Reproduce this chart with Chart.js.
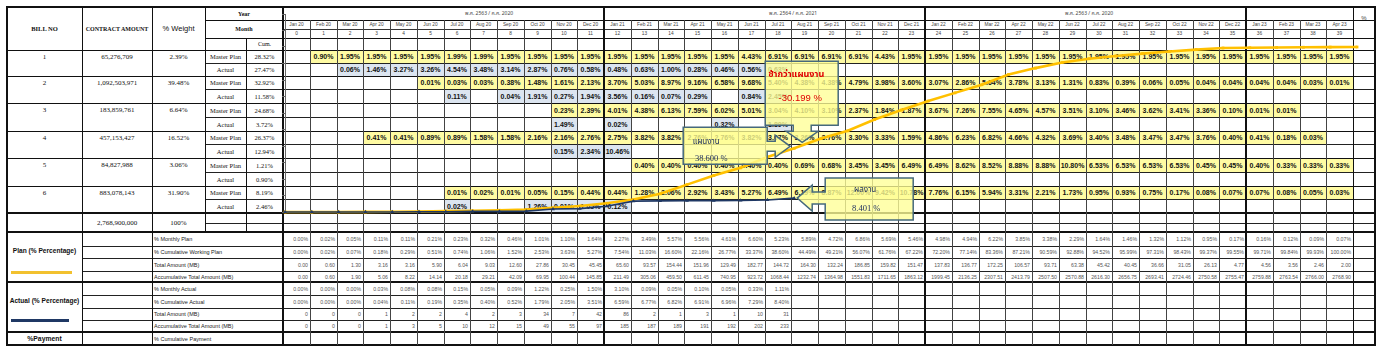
<!DOCTYPE html>
<html lang="th">
<head>
<meta charset="utf-8">
<title>S-Curve</title>
<script src="https://cdn.jsdelivr.net/npm/chart.js@4.4.1/dist/chart.umd.min.js"></script>
<style>
html,body{margin:0;padding:0;background:#fff;}
#wrap{position:relative;width:1378px;height:352px;overflow:hidden;background:#fff;font-family:"Liberation Sans",Arial,sans-serif;}
.f,.l{position:absolute;}
.t{position:absolute;display:flex;align-items:center;justify-content:center;white-space:nowrap;line-height:1;color:#111;}
#c{position:absolute;left:0;top:0;z-index:5;}
#ov{position:absolute;left:0;top:0;z-index:6;}
</style>
</head>
<body>
<div id="wrap"><canvas id="c" width="1378" height="352" style="width:1378px;height:352px"></canvas></div>
<script>
// ---------------- DATA ----------------
const months = ['Jan 20','Feb 20','Mar 20','Apr 20','May 20','Jun 20','Jul 20','Aug 20','Sep 20','Oct 20','Nov 20','Dec 20',
  'Jan 21','Feb 21','Mar 21','Apr 21','May 21','Jun 21','Jul 21','Aug 21','Sep 21','Oct 21','Nov 21','Dec 21',
  'Jan 22','Feb 22','Mar 22','Apr 22','May 22','Jun 22','Jul 22','Aug 22','Sep 22','Oct 22','Nov 22','Dec 22',
  'Jan 23','Feb 23','Mar 23','Apr 23'];
const yearLabels = ['พ.ศ. 2563 / ค.ศ. 2020','พ.ศ. 2564 / ค.ศ. 2021','พ.ศ. 2563 / ค.ศ. 2020',''];

const billNo = ['1','2','3','4','5','6'];
const contractAmount = ['65,276,709','1,092,503,971','183,859,761','457,153,427','84,827,988','883,078,143'];
const weight = ['2.39%','39.48%','6.64%','16.52%','3.06%','31.90%'];
const itemCumPlan = ['28.32%','32.92%','24.68%','26.37%','1.21%','8.19%'];
const itemCumActual = ['27.47%','11.58%','3.72%','12.94%','0.90%','2.46%'];
const totalAmount = '2,768,900,000';
const totalWeight = '100%';

// monthly % per item (first value sits in the start column)
const planStart = [1, 5, 10, 3, 13, 6];
const planItem1 = [0.90,1.95,1.95,1.95,1.95,1.99,1.99,1.95,1.95,1.95,1.95,1.95,1.95,1.95,1.95,1.95,4.43,6.91,6.91,6.91,6.91,4.43,1.95,1.95,1.95,1.95,1.95,1.95,1.95,1.95,1.95,1.95,1.95,1.95,1.95,1.95,1.95,1.95,1.95];
const planItem2 = [0.01,0.03,0.03,0.38,1.48,1.61,2.13,3.70,5.03,8.97,9.16,6.58,9.68,5.40,4.38,4.38,4.79,3.98,3.60,3.07,2.86,5.64,3.78,3.13,1.31,0.83,0.39,0.06,0.05,0.04,0.04,0.04,0.04,0.03,0.01];
const planItem3 = [0.23,2.39,4.01,4.38,6.13,7.59,6.02,5.01,3.04,4.10,3.10,2.37,1.84,1.87,3.67,7.26,7.55,4.65,4.57,3.51,3.10,3.46,3.62,3.41,3.36,0.10,0.01,0.01];
const planItem4 = [0.41,0.41,0.89,0.89,1.58,1.58,2.16,2.16,2.76,2.75,3.82,3.82,2.76,2.76,3.82,3.07,3.26,3.76,3.30,3.33,1.59,4.86,6.23,6.82,4.66,4.32,3.69,3.40,3.48,3.47,3.47,3.76,0.40,0.41,0.18,0.03];
const planItem5 = [0.40,0.40,0.40,0.40,0.40,0.40,0.69,0.68,3.45,3.45,6.49,6.49,8.62,8.52,8.88,8.88,10.80,6.53,6.53,6.53,6.53,0.45,0.45,0.40,0.33,0.33,0.33];
const planItem6 = [0.01,0.02,0.01,0.05,0.15,0.44,0.44,1.28,2.06,2.92,3.43,5.27,6.49,6.19,8.87,12.00,9.42,10.78,7.76,6.15,5.94,3.31,2.21,1.73,0.95,0.93,0.75,0.17,0.08,0.07,0.07,0.08,0.05,0.03];
const actualStart = [2, 6, 10, 10, 0, 6];
const actualItem1 = [0.06,1.46,3.27,3.26,4.54,3.48,3.14,2.87,0.76,0.58,0.48,0.63,1.00,0.28,0.46,0.56,0.63];
const actualItem2 = [0.11,null,0.04,1.91,0.27,1.94,3.56,0.16,0.07,0.29,null,0.84,2.45];
const actualItem3 = [1.49,null,0.02,null,null,null,0.32,null,1.89];
const actualItem4 = [0.15,2.34,10.46];
const actualItem5 = [];
const actualItem6 = [0.02,null,null,1.26,0.01,1.05,0.12];

// summary rows
const monthlyPlan = [0.00,0.02,0.05,0.11,0.11,0.21,0.23,0.32,0.46,1.01,1.10,1.64,2.27,3.49,5.57,5.56,4.61,6.60,5.23,5.89,4.72,6.86,5.69,5.46,4.98,4.94,6.22,3.85,3.38,2.29,1.64,1.46,1.32,1.12,0.95,0.17,0.16,0.12,0.09,0.07];
const cumPlan = [0.00,0.02,0.07,0.18,0.29,0.51,0.74,1.06,1.52,2.53,3.63,5.27,7.54,11.03,16.60,22.16,26.77,33.37,38.60,44.49,49.21,56.07,61.76,67.22,72.20,77.14,83.36,87.21,90.59,92.88,94.52,95.99,97.31,98.43,99.37,99.55,99.71,99.84,99.93,100.00];
const planAmount = [0.00,0.60,1.30,3.16,3.16,5.90,6.04,9.03,12.60,27.86,30.45,45.45,65.60,93.57,154.44,151.96,129.49,182.77,144.72,164.30,132.24,186.85,159.82,151.47,137.83,136.77,172.25,106.57,93.71,63.38,45.42,40.45,36.66,31.05,26.13,4.77,4.56,3.56,2.46,2.00];
const planAccum = [0.00,0.60,1.90,5.06,8.22,14.14,20.18,29.21,42.09,69.95,100.44,145.85,211.49,305.06,459.50,611.45,740.95,923.72,1068.44,1232.74,1364.98,1551.83,1711.65,1863.12,1999.45,2136.25,2307.51,2413.79,2507.50,2570.88,2616.30,2656.75,2693.41,2724.46,2750.58,2755.47,2759.88,2763.54,2766.00,2768.90];
const monthlyActual = [0.00,0.00,0.00,0.03,0.08,0.08,0.15,0.05,0.09,1.22,0.25,1.50,3.10,0.09,0.05,0.10,0.05,0.33,1.11];
const cumActual = [0.00,0.00,0.00,0.04,0.11,0.19,0.35,0.40,0.52,1.79,2.05,3.51,6.59,6.77,6.82,6.91,6.96,7.29,8.40];
const actualAmount = [0,0,0,1,2,2,4,2,3,34,7,42,86,2,1,3,1,10,31];
const actualAccum = [0,0,0,1,3,5,10,12,15,49,55,97,185,187,189,191,192,202,233];

// S-curve points: point 0 is the project start, point i is the cumulative value after month i-1
const planCurve = [0].concat(cumPlan);
const actualCurve = [0].concat(cumActual);

// status callouts
const calloutIndex = 19;
const calloutPlanText = ['แผนงาน', '38.600 %'];
const calloutActualText = ['ผลงาน', '8.401 %'];
const calloutDiffText = ['ช้ากว่าแผนงาน', '-30.199 %'];

// ---------------- TABLE ----------------
const wrap = document.getElementById('wrap');
const X0 = 283, CW = 26.75, NC = 40, XR = 1375;
const cx = i => Math.round(X0 + i * CW);
const rowsY = [50,63,76,89,103,117,131,144,158,172,186,199,213];
const botY = [232,246,258,271,282,295,308,320,332,345];
const SANS = '"Liberation Sans",Arial,sans-serif';
const SERIF = '"Liberation Serif","Times New roman",serif';
const THAI = '"Noto Sans Thai","Loma","Garuda","Tahoma","Noto Sans","DejaVu Sans",sans-serif';

function add(cls, css, txt) {
  const d = document.createElement('div');
  d.className = cls;
  Object.assign(d.style, css);
  if (txt != null) d.textContent = txt;
  wrap.appendChild(d);
  return d;
}
function fill(x, y, w, h, c) { add('f', {left:x+'px', top:y+'px', width:w+'px', height:h+'px', background:c, zIndex:1}); }
function H(x1, x2, y, w, c) { w = w||1; add('l', {left:x1+'px', top:Math.round(y - w/2)+'px', width:(x2-x1)+'px', height:w+'px', background:c||'#111', zIndex:2}); }
function V(x, y1, y2, w, c) { w = w||1; add('l', {left:Math.round(x - w/2)+'px', top:y1+'px', width:w+'px', height:(y2-y1)+'px', background:c||'#111', zIndex:2}); }
function txt(x, y, w, h, s, font, opt) {
  opt = opt || {};
  const css = {left:x+'px', top:y+'px', width:w+'px', height:h+'px', font:font, zIndex:3};
  if (opt.color) css.color = opt.color;
  if (opt.align === 'left') { css.justifyContent = 'flex-start'; css.paddingLeft = (opt.pad||2)+'px'; css.boxSizing='border-box'; }
  if (opt.align === 'right') { css.justifyContent = 'flex-end'; css.paddingRight = (opt.pad||2)+'px'; css.boxSizing='border-box'; }
  return add('t', css, s);
}

// cell fills for item rows
const planRows = [planItem1, planItem2, planItem3, planItem4, planItem5, planItem6];
const actualRows = [actualItem1, actualItem2, actualItem3, actualItem4, actualItem5, actualItem6];
const PLAN_FILL = '#FFFBA3', ACT_FILL = '#DCE5F0';
for (let k = 0; k < 6; k++) {
  const yP1 = rowsY[2*k], yP2 = rowsY[2*k+1], yA2 = rowsY[2*k+2];
  planRows[k].forEach((v, j) => {
    if (v == null) return;
    const c = planStart[k] + j;
    fill(cx(c), yP1, cx(c+1)-cx(c), yP2-yP1, PLAN_FILL);
    txt(cx(c), yP1, cx(c+1)-cx(c), yP2-yP1, v.toFixed(2)+'%', 'bold 7px '+SANS);
  });
  actualRows[k].forEach((v, j) => {
    if (v == null) return;
    const c = actualStart[k] + j;
    fill(cx(c), yP2, cx(c+1)-cx(c), yA2-yP2, ACT_FILL);
    txt(cx(c), yP2, cx(c+1)-cx(c), yA2-yP2, v.toFixed(2)+'%', 'bold 7px '+SANS);
  });
}

// horizontal lines
H(7, XR, 7, 2);
H(205, XR, 20);
H(X0, cx(NC), 29, 1, '#333');
H(205, XR, 38);
H(7, XR, 50);
for (let r = 1; r < rowsY.length - 1; r++) {
  if (r % 2 === 1) H(205, XR, rowsY[r], 1, '#222');
  else H(7, XR, rowsY[r], 1, '#111');
}
H(7, XR, 213, 2);
H(205, XR, 223, 1, '#222');
H(7, XR, 232, 2);
[246,258,271].forEach(y => H(82, XR, y, 1, '#222'));
H(7, XR, 282, 2);
[295,308,320].forEach(y => H(82, XR, y, 1, '#222'));
H(7, XR, 332, 2);
H(7, XR, 345, 2);

// vertical lines
V(7, 6, 346, 2);
V(82, 7, 345);
V(152, 7, 345);
V(205, 7, 232);
V(246, 38, 232);
V(X0, 7, 345, 2);
for (let i = 1; i < NC; i++) {
  if (i % 12 === 0) V(cx(i), 7, 345, 2);
  else V(cx(i), 20, 345, 1, '#444');
}
V(cx(NC), 7, 345, 1);
V(XR, 6, 346, 2);

// header texts
txt(7, 7, 75, 43, 'BILL NO', 'bold 6.5px '+SERIF);
txt(82, 7, 70, 43, 'CONTRACT AMOUNT', 'bold 6px '+SERIF);
txt(152, 7, 53, 43, '% Weight', '7.5px '+SANS);
txt(205, 7, 78, 13, 'Year', 'bold 6px '+SERIF);
txt(205, 20, 78, 18, 'Month', 'bold 6px '+SERIF);
txt(246, 38, 37, 12, 'Cum.', '6px '+SERIF);
const yearTextLeft = [463, 767, 1063];
yearLabels.forEach((s, b) => { if (s) txt(yearTextLeft[b], 7, 70, 13, s, '5px '+THAI, {align:'left', pad:0, color:'#444'}); });
months.forEach((m, i) => {
  txt(cx(i), 20, cx(i+1)-cx(i), 9, m, '4.8px '+SANS, {color:'#444'});
  txt(cx(i), 29, cx(i+1)-cx(i), 9, String(i), '4.8px '+SANS, {color:'#444'});
});
txt(cx(NC), 12, XR-cx(NC), 12, '%', '6px '+SANS, {color:'#444'});

// item rows texts
for (let k = 0; k < 6; k++) {
  const y1 = rowsY[2*k], y2 = rowsY[2*k+1], y3 = rowsY[2*k+2];
  txt(7, y1, 75, y2-y1, billNo[k], '7px '+SERIF);
  txt(82, y1, 70, y2-y1, contractAmount[k], '7px '+SERIF);
  txt(152, y1, 53, y2-y1, weight[k], '7px '+SERIF);
  txt(205, y1, 41, y2-y1, 'Master Plan', '6.5px '+SERIF);
  txt(246, y1, 37, y2-y1, itemCumPlan[k], '6.5px '+SERIF);
  txt(205, y2, 41, y3-y2, 'Actual', '6.5px '+SERIF);
  txt(246, y2, 37, y3-y2, itemCumActual[k], '6.5px '+SERIF);
}
txt(82, 213, 70, 19, totalAmount, '7px '+SERIF);
txt(152, 213, 53, 19, totalWeight, '7px '+SERIF);

// summary section
const botLabels = ['% Monthly Plan','% Cumulative Working Plan','Total Amount (MB)','Accumulative Total Amount (MB)',
  '% Monthly Actual','% Cumulative Actual','Total Amount (MB)','Accumulative Total Amount (MB)','% Cumulative Payment'];
botLabels.forEach((s, r) => txt(152, botY[r], 131, botY[r+1]-botY[r], s, '5.5px '+SANS, {align:'left', pad:2, color:'#222'}));
const pct = v => v.toFixed(2)+'%';
const dec = v => v.toFixed(2);
const botRows = [
  [monthlyPlan, pct], [cumPlan, pct], [planAmount, dec], [planAccum, dec],
  [monthlyActual, pct], [cumActual, pct], [actualAmount, String], [actualAccum, String]
];
botRows.forEach(([arr, f], r) => {
  arr.forEach((v, i) => txt(cx(i), botY[r], cx(i+1)-cx(i), botY[r+1]-botY[r], f(v), '5.2px '+SANS, {align:'right', pad:2, color:'#555'}));
});
txt(7, 234, 75, 32, 'Plan (% Percentage)', 'bold 6.6px '+SANS);
add('l', {left:'11px', top:'271px', width:'61px', height:'3px', background:'#F2C12E', zIndex:3});
txt(7, 284, 75, 32, 'Actual (% Percentage)', 'bold 6.6px '+SANS);
add('l', {left:'11px', top:'319px', width:'58px', height:'3px', background:'#1F3864', zIndex:3});
txt(7, 332, 75, 13, '%Payment', 'bold 6.8px '+SANS);

// ---------------- CHART ----------------
const chart = new Chart(document.getElementById('c'), {
  type: 'line',
  data: {
    datasets: [
      { label: 'Actual (% Percentage)', data: actualCurve.map((v, i) => ({x: i, y: v})),
        borderColor: '#1F3864', backgroundColor: '#1F3864', borderWidth: 1.6,
        pointStyle: 'triangle', pointRadius: 2.2, pointBorderWidth: 0, tension: 0, order: 0, clip: false },
      { label: 'Plan (% Percentage)', data: planCurve.map((v, i) => ({x: i, y: v})),
        borderColor: '#FFC000', backgroundColor: '#FFC000', borderWidth: 2.6,
        pointStyle: 'rect', pointRadius: 2, pointBorderWidth: 0, tension: 0, order: 1, clip: false }
    ]
  },
  options: {
    responsive: false, animation: false, devicePixelRatio: 1, events: [],
    layout: { padding: { left: 282, top: 14, right: 21, bottom: 140 }, autoPadding: false },
    plugins: { legend: { display: false }, tooltip: { enabled: false } },
    scales: {
      x: { type: 'linear', min: 0, max: 40, display: false },
      y: { type: 'linear', position: 'left', min: 0, max: 120,
           ticks: { display: false, stepSize: 10 },
           grid: { drawOnChartArea: false, drawTicks: true, tickLength: 3, color: '#666', lineWidth: 1 },
           border: { display: true, color: '#666', width: 1 },
           afterFit(s) { s.width = 3; } }
    }
  }
});

// ---------------- CALLOUTS ----------------
const sx = chart.scales.x, sy = chart.scales.y;
const ax = sx.getPixelForValue(calloutIndex);
const yP = sy.getPixelForValue(planCurve[calloutIndex]);
const yA = sy.getPixelForValue(actualCurve[calloutIndex]);
const NS = 'http://www.w3.org/2000/svg';
const svg = document.createElementNS(NS, 'svg');
svg.setAttribute('id', 'ov'); svg.setAttribute('width', '1378'); svg.setAttribute('height', '352');
wrap.appendChild(svg);
function poly(pts) {
  const p = document.createElementNS(NS, 'polygon');
  p.setAttribute('points', pts.map(q => q[0].toFixed(1)+','+q[1].toFixed(1)).join(' '));
  p.setAttribute('fill', 'rgba(255,255,150,0.78)');
  p.setAttribute('stroke', '#46697C');
  p.setAttribute('stroke-width', '1.5');
  p.setAttribute('stroke-linejoin', 'miter');
  svg.appendChild(p);
}
// 1: difference callout with down arrow
(function(){
  const L = ax-29, R = ax+44, T = yP-87, B = yP-23, c = ax+8;
  poly([[L,T],[R,T],[R,B],[c+9,B],[c+9,B+6],[c+16,B+6],[c,B+17],[c-16,B+6],[c-9,B+6],[c-9,B],[L,B]]);
})();
// 2: plan callout with right arrow
(function(){
  const L = ax-111, R = ax-27, T = yP-21, B = yP+16, cy = yP-2;
  poly([[L,T],[R,T],[R,cy-5],[R+8,cy-5],[R+8,cy-11],[ax-4,cy],[R+8,cy+11],[R+8,cy+5],[R,cy+5],[R,B],[L,B]]);
})();
// 3: actual callout with left arrow
(function(){
  const L = ax+31, R = ax+119, T = yA-20, B = yA+22, cy = yA;
  poly([[L,T],[R,T],[R,B],[L,B],[L,cy+6],[L-13,cy+6],[L-13,cy+13],[ax+3,cy],[L-13,cy-13],[L-13,cy-6],[L,cy-6]]);
})();
function ctext(x, y, s, font, color) {
  add('t', {left:(x-60)+'px', top:(y-7)+'px', width:'120px', height:'14px', font:font, color:color, zIndex:8}, s);
}
ctext(ax+2, yP-74, calloutDiffText[0], 'bold 9px '+THAI, '#E00000');
ctext(ax+6, yP-51, calloutDiffText[1], '9.5px '+SANS, '#E00000');
ctext(ax-88, yP-6, calloutPlanText[0], '8px '+THAI, '#1F3060');
ctext(ax-83, yP+10, calloutPlanText[1], '8.5px '+SERIF, '#1F3060');
ctext(ax+71, yA-8, calloutActualText[0], '8px '+THAI, '#1F3060');
ctext(ax+72, yA+10, calloutActualText[1], '8.5px '+SERIF, '#1F3060');
</script>
</body>
</html>
